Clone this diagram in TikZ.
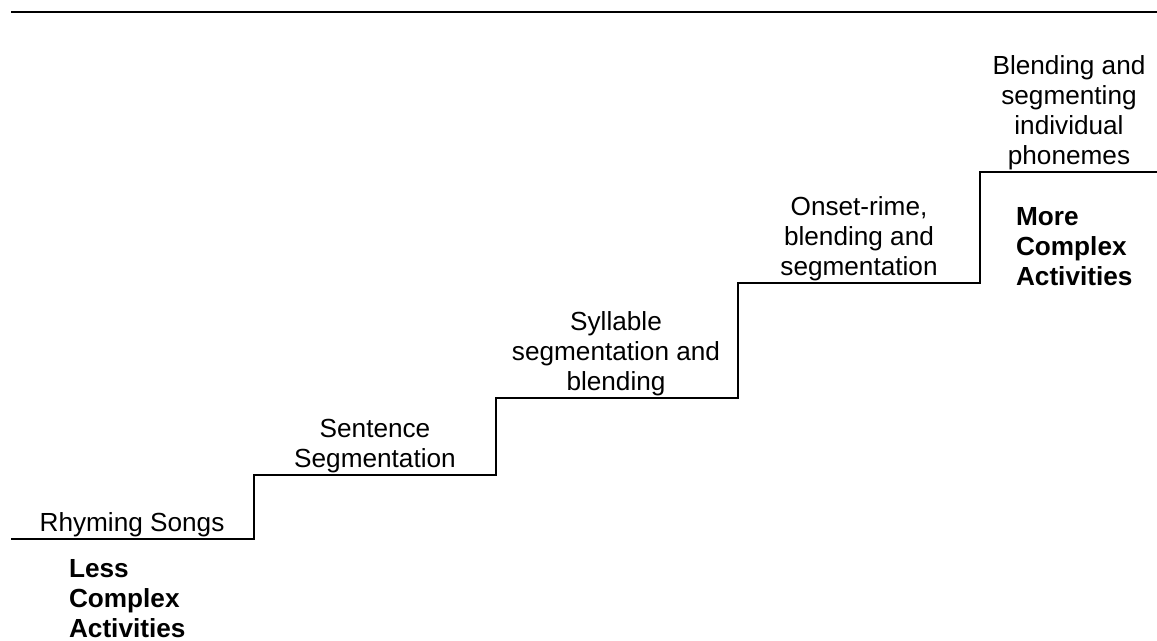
\documentclass[tikz,border=0pt]{standalone}
\usepackage{fontspec}
\setmainfont{Liberation Sans}
\tikzset{
  every node/.style={font=\fontsize{14.9}{17.1}\selectfont},
  steplabel/.style={anchor=south, inner sep=0pt, align=center},
  levellabel/.style={anchor=north west, inner sep=0pt, align=left, font=\fontsize{14.9}{17.1}\selectfont\bfseries},
}
\begin{document}
\begin{tikzpicture}[x=0.02cm, y=-0.02cm, line width=1.2pt]
  \useasboundingbox (0,0) rectangle (1157,641);
  % Rule at the top
  \draw (11,12) -- (1157,12);
  % Staircase
  \coordinate (s0) at (11,539);
  \coordinate (s1) at (254,475);
  \coordinate (s2) at (496,398);
  \coordinate (s3) at (738,283);
  \coordinate (s4) at (980,172);
  \coordinate (s5) at (1157,172);
  \draw (s0) -| (s1) -| (s2) -| (s3) -| (s4) -- (s5);
  % Step labels
  \node[steplabel] (rhyming) at (132,538) {Rhyming Songs};
  \node[steplabel] (sentence) at (375,474) {Sentence\\Segmentation};
  \node[steplabel] (syllable) at (616,397) {Syllable\\segmentation and\\blending};
  \node[steplabel] (onset) at (859,282) {Onset-rime,\\blending and\\segmentation};
  \node[steplabel] (phoneme) at (1069,171) {Blending and\\segmenting\\individual\\phonemes};
  % Ends of the scale
  \node[levellabel] (less) at (68,558) {Less\\Complex\\Activities};
  \node[levellabel] (more) at (1015,206) {More\\Complex\\Activities};
\end{tikzpicture}
\end{document}
